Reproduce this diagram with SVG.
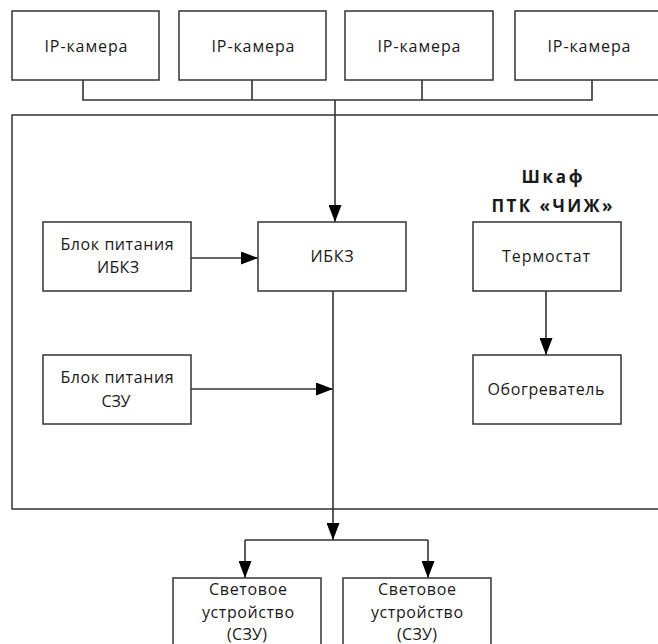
<svg xmlns="http://www.w3.org/2000/svg" width="658" height="644" viewBox="0 0 658 644">
<style>
.box{fill:#fff;stroke:#333;stroke-width:1.5}
.t{font-family:"Open Sans","Liberation Sans",sans-serif;font-size:16px;fill:#1a1a1a;text-anchor:middle}
.b{font-weight:bold;font-size:17px}
.ln{fill:none;stroke:#333;stroke-width:1.6}
</style>
<defs>
<marker id="ar" markerUnits="userSpaceOnUse" viewBox="0 0 17 13" refX="17" refY="6.5" markerWidth="17" markerHeight="13" orient="auto">
<path d="M0,0 L17,6.5 L0,13 Z" fill="#000"/>
</marker>
</defs>
<rect width="658" height="644" fill="#fff"/>
<g id="cabinet">
<rect class="box" x="12" y="115" width="660" height="394"/>
<text class="t b" x="552" y="183" textLength="61" lengthAdjust="spacing">Шкаф</text>
<text class="t b" x="552" y="212" textLength="121" lengthAdjust="spacing">ПТК «ЧИЖ»</text>
</g>
<g id="connectors">
<path class="ln" d="M83,80 V100 H592 V80 M252,80 V100 M422,80 V100"/>
<path class="ln" d="M335,100 V222" marker-end="url(#ar)"/>
<path class="ln" d="M191,258 H258" marker-end="url(#ar)"/>
<path class="ln" d="M191,389 H333" marker-end="url(#ar)"/>
<path class="ln" d="M546,291 V355" marker-end="url(#ar)"/>
<path class="ln" d="M333,291 V540" marker-end="url(#ar)"/>
<path class="ln" d="M245,540 H428"/>
<path class="ln" d="M245,540 V578" marker-end="url(#ar)"/>
<path class="ln" d="M428,540 V578" marker-end="url(#ar)"/>
</g>
<g id="cam1"><rect class="box" x="12" y="11" width="147" height="69"/><text class="t" x="86" y="52" textLength="83" lengthAdjust="spacing">IP-камера</text></g>
<g id="cam2"><rect class="box" x="179" y="11" width="147" height="69"/><text class="t" x="253" y="52" textLength="83" lengthAdjust="spacing">IP-камера</text></g>
<g id="cam3"><rect class="box" x="345" y="11" width="148" height="69"/><text class="t" x="419" y="52" textLength="83" lengthAdjust="spacing">IP-камера</text></g>
<g id="cam4"><rect class="box" x="515" y="11" width="160" height="69"/><text class="t" x="589" y="52" textLength="83" lengthAdjust="spacing">IP-камера</text></g>
<g id="psu-ibkz"><rect class="box" x="43" y="222" width="148" height="69"/>
<text class="t" x="117" y="250" textLength="113" lengthAdjust="spacing">Блок питания</text>
<text class="t" x="118" y="273" textLength="42" lengthAdjust="spacing">ИБКЗ</text></g>
<g id="ibkz"><rect class="box" x="258" y="222" width="148" height="69"/>
<text class="t" x="332" y="262" textLength="43" lengthAdjust="spacing">ИБКЗ</text></g>
<g id="thermostat"><rect class="box" x="473" y="222" width="148" height="69"/>
<text class="t" x="546" y="262" textLength="88" lengthAdjust="spacing">Термостат</text></g>
<g id="psu-szu"><rect class="box" x="43" y="355" width="148" height="69"/>
<text class="t" x="117" y="383" textLength="113" lengthAdjust="spacing">Блок питания</text>
<text class="t" x="116" y="407" textLength="29" lengthAdjust="spacing">СЗУ</text></g>
<g id="heater"><rect class="box" x="473" y="355" width="148" height="69"/>
<text class="t" x="546" y="395" textLength="117" lengthAdjust="spacing">Обогреватель</text></g>
<g id="light1"><rect class="box" x="173" y="578" width="148" height="80"/>
<text class="t" x="248" y="595" textLength="78" lengthAdjust="spacing">Световое</text>
<text class="t" x="248" y="618" textLength="92" lengthAdjust="spacing">устройство</text>
<text class="t" x="247" y="640" textLength="40" lengthAdjust="spacing">(СЗУ)</text></g>
<g id="light2"><rect class="box" x="343" y="578" width="148" height="80"/>
<text class="t" x="417" y="595" textLength="78" lengthAdjust="spacing">Световое</text>
<text class="t" x="417" y="618" textLength="92" lengthAdjust="spacing">устройство</text>
<text class="t" x="417" y="640" textLength="40" lengthAdjust="spacing">(СЗУ)</text></g>
</svg>
